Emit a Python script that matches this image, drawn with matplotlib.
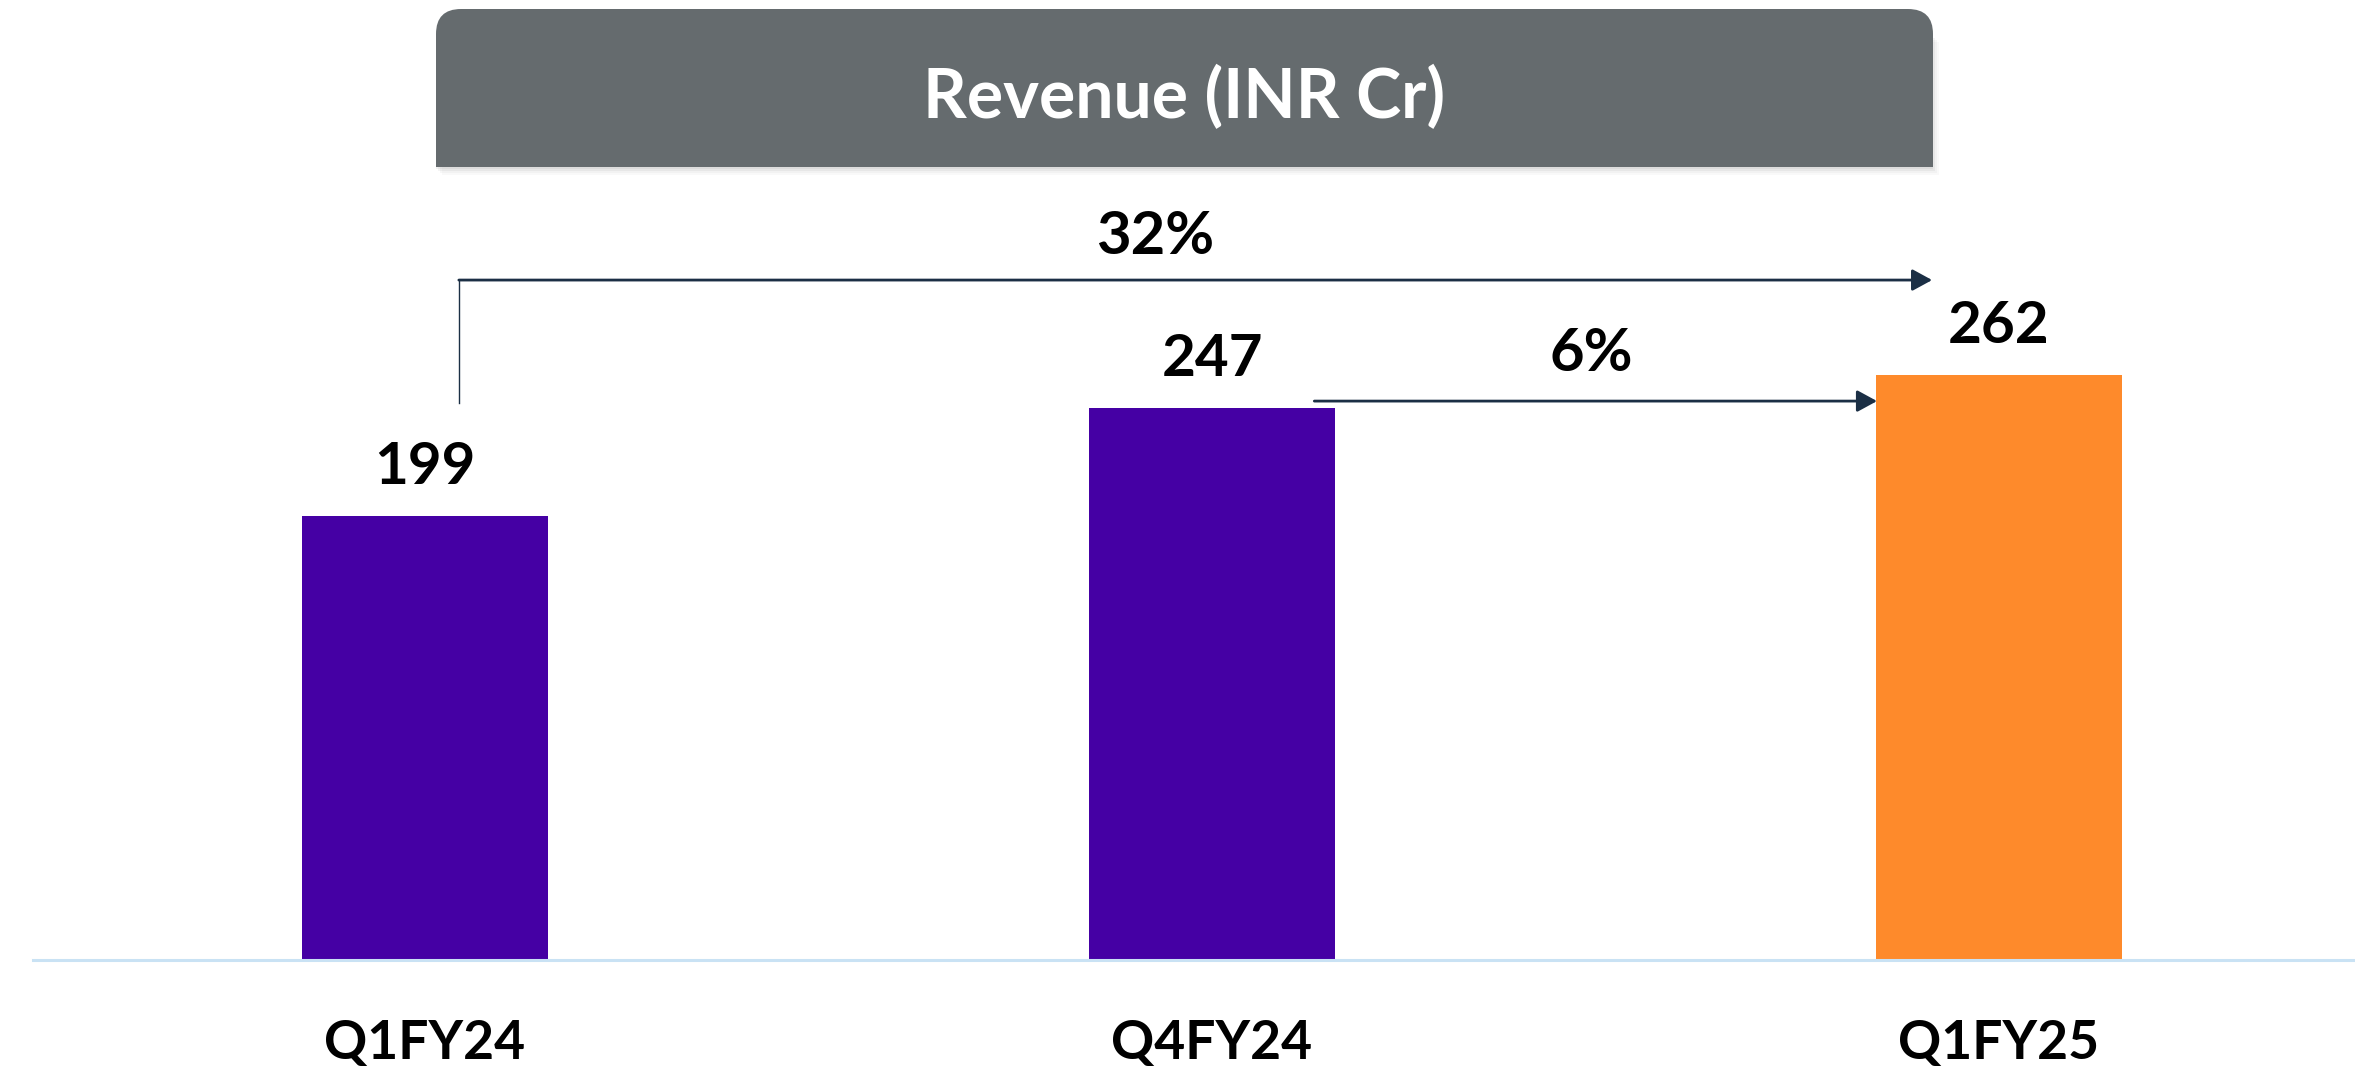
import matplotlib
matplotlib.use("Agg")
import matplotlib.pyplot as plt
from matplotlib.patches import FancyBboxPatch, Rectangle, FancyArrowPatch
import numpy as np

categories = ["Q1FY24", "Q4FY24", "Q1FY25"]
revenue = [199, 247, 262]
bar_colors = ["#4500A4", "#4500A4", "#FE8A2B"]
growth_labels = ["32%", "6%"]
title = "Revenue (INR Cr)"

W, H, DPI = 2355, 1074, 100
plt.rcParams['font.family'] = ['Lato', 'DejaVu Sans']

fig = plt.figure(figsize=(W / DPI, H / DPI), dpi=DPI)

# main axes: baseline at 960 px from top, starts at x=33 px
ax_left = 33 / W
ax_bottom = (H - 960) / H
ax = fig.add_axes([ax_left, ax_bottom, 1 - ax_left, 960 / H])
x = np.arange(len(categories))
ax.bar(x, revenue, width=0.3125, color=bar_colors, zorder=2)
ax.set_xlim((33 - 425) / 787, (W - 425) / 787)
ax.set_ylim(0, 960 / 2.233)
for s in ["top", "right", "left"]:
    ax.spines[s].set_visible(False)
ax.spines["bottom"].set_color("#C9E2F4")
ax.spines["bottom"].set_linewidth(2.2)
ax.set_yticks([])
ax.set_xticks(x, categories)
ax.tick_params(axis="x", length=0, pad=60)
for lbl in ax.get_xticklabels():
    lbl.set_fontsize(38.5)
    lbl.set_fontweight("bold")
    lbl.set_va("center")

# value labels
for xi, v in zip(x, revenue):
    ax.annotate(f"{v}", xy=(xi, v), xytext=(0, 35), textcoords="offset points",
                ha="center", va="center", fontsize=42, fontweight="bold", color="black")

arrow_col = "#1B2F45"
# 32% arrow: vertical then horizontal
ax.plot([0.043, 0.043], [249.4, 304.5], color=arrow_col, lw=1.0, zorder=3)
ax.add_patch(FancyArrowPatch((0.043, 304.5), (1.915, 304.5),
                             arrowstyle="-|>,head_length=0.55,head_width=0.3",
                             mutation_scale=22, color=arrow_col, lw=2.0,
                             shrinkA=0, shrinkB=0, zorder=3))
ax.text(0.928, 323.8, growth_labels[0], ha="center", va="center",
        fontsize=43, fontweight="bold", color="black")
# 6% arrow
ax.add_patch(FancyArrowPatch((1.130, 250.3), (1.845, 250.3),
                             arrowstyle="-|>,head_length=0.55,head_width=0.3",
                             mutation_scale=22, color=arrow_col, lw=2.0,
                             shrinkA=0, shrinkB=0, zorder=3))
ax.text(1.482, 271.4, growth_labels[1], ha="center", va="center",
        fontsize=43, fontweight="bold", color="black")

# overlay axes in pixel coords for the title box
ov = fig.add_axes([0, 0, 1, 1], zorder=5)
ov.set_xlim(0, W)
ov.set_ylim(H, 0)
ov.axis("off")
bx0, bx1, by0, by1 = 436, 1933, 9, 167
r = 25
# shadow
for i, a in enumerate([0.10, 0.08, 0.06, 0.04]):
    d = 2 + i * 2
    ov.add_patch(Rectangle((bx0 + d - 2, by0 + r + d), bx1 - bx0, by1 - by0 - r,
                           facecolor="#7a7a7a", edgecolor="none", alpha=a))
box_col = "#656B6E"
ov.add_patch(FancyBboxPatch((bx0 + r, by0 + r), bx1 - bx0 - 2 * r, by1 - by0 - 2 * r,
                            boxstyle=f"round,pad={r}", facecolor=box_col, edgecolor="none"))
ov.add_patch(Rectangle((bx0, (by0 + by1) / 2), bx1 - bx0, (by1 - by0) / 2,
                       facecolor=box_col, edgecolor="none"))
ov.text((bx0 + bx1) / 2, 97, title, ha="center", va="center", color="white",
        fontsize=49, fontweight="bold")

fig.savefig("out.png", dpi=DPI)
